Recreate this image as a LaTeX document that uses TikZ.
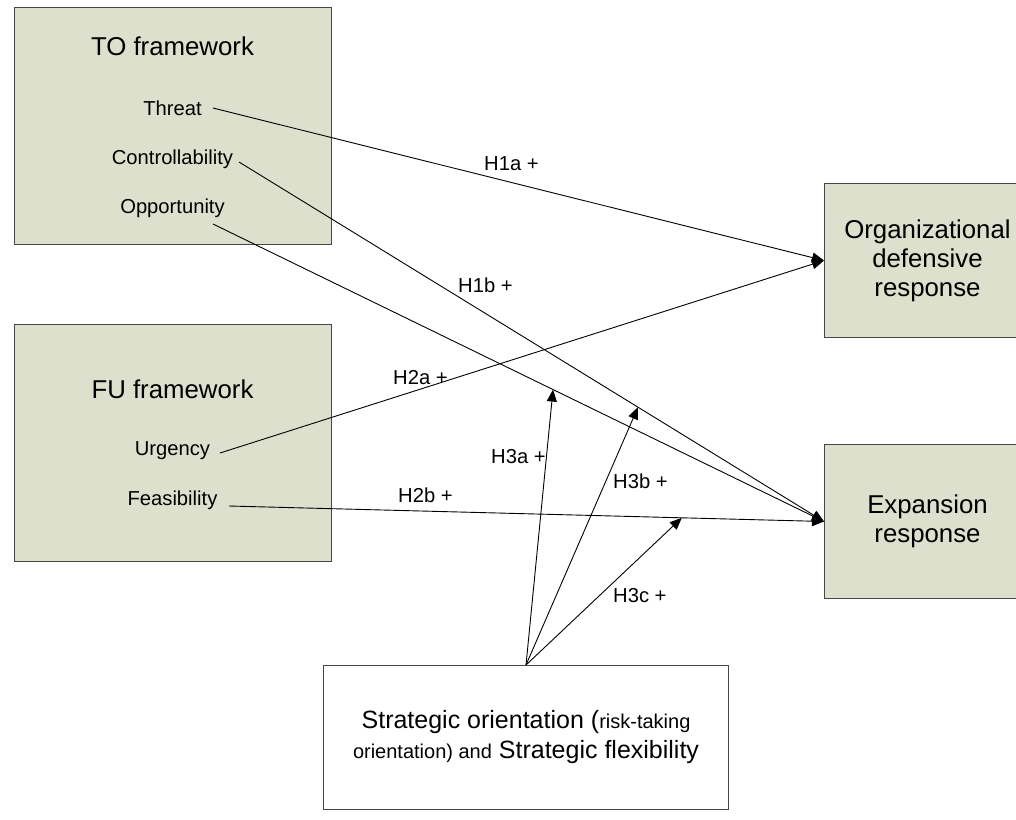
\documentclass[tikz,border=0pt]{standalone}
\usepackage{fontspec}
\setmainfont{Liberation Sans}
\usetikzlibrary{arrows.meta,calc}
\definecolor{boxfill}{RGB}{221,224,204}
\definecolor{boxline}{RGB}{70,70,70}
\tikzset{
  frame/.style={draw=boxline, fill=boxfill, line width=1pt, inner sep=0pt, anchor=north west},
  whiteframe/.style={draw=boxline, fill=white, line width=1pt, inner sep=0pt, anchor=north west},
  big/.style={font=\fontsize{25.8}{29}\selectfont},
  item/.style={font=\fontsize{20.2}{24}\selectfont, anchor=base, inner sep=0pt},
  title/.style={font=\fontsize{25.8}{29}\selectfont, anchor=base, inner sep=0pt},
  lbl/.style={font=\fontsize{20.2}{24}\selectfont, anchor=base west, inner sep=0pt},
  conn/.style={line width=0.9pt, -{Triangle[length=12pt,width=10pt]}},
}
\begin{document}
\begin{tikzpicture}[x=1pt,y=-1pt]
\useasboundingbox (0,0) rectangle (1016,819);
% frames
\node[frame, minimum width=317pt, minimum height=237pt] (to) at (14,7) {};
\node[frame, minimum width=317pt, minimum height=237pt] (fu) at (14,324) {};
\node[frame, big, align=center, minimum width=206pt, minimum height=154pt] (org) at (824,183) {Organizational\\defensive\\response};
\node[frame, big, align=center, minimum width=206pt, minimum height=154pt] (exp) at (824,444) {Expansion\\response};
\node[whiteframe, align=center, font=\fontsize{25}{30}\selectfont, minimum width=405pt, minimum height=144pt] (sb) at (323,665)
  {Strategic orientation ({\fontsize{20}{30}\selectfont risk-taking}\\{\fontsize{20}{30}\selectfont orientation) and} Strategic flexibility};
% texts in frames
\node[title] (tot) at (172.5,55) {TO framework};
\node[item] (threat) at (172.5,115) {Threat};
\node[item] (ctrl) at (172.5,164) {Controllability};
\node[item] (opp) at (172.5,213) {Opportunity};
\node[title] (fut) at (172.5,398) {FU framework};
\node[item] (urg) at (172.5,455) {Urgency};
\node[item] (feas) at (172.5,505) {Feasibility};
% connector starts
\coordinate (threatS) at (213,108);
\coordinate (ctrlS) at (239,162);
\coordinate (oppS) at (213,224);
\coordinate (urgS) at (220,453);
\coordinate (feasS) at (229,506);
% main connectors
\draw[conn] (threatS) -- (org.west);
\draw[conn] (urgS) -- (org.west);
\draw[conn] (ctrlS) -- (exp.west);
\draw[conn] (oppS) -- (exp.west);
\draw[conn] (feasS) -- (exp.west);
% moderating connectors
\coordinate (t3a) at ($(oppS)!0.5565!(exp.west)$);
\coordinate (t3b) at ($(ctrlS)!0.682!(exp.west)$);
\coordinate (t3c) at ($(feasS)!0.761!(exp.west)$);
\draw[conn] (sb.north) -- (t3a);
\draw[conn] (sb.north) -- (t3b);
\draw[conn] (sb.north) -- (t3c);
% labels
\node[lbl] (h1a) at (484,170) {H1a +};
\node[lbl] (h1b) at (458,292) {H1b +};
\node[lbl] (h2a) at (393,384) {H2a +};
\node[lbl] (h2b) at (398,502) {H2b +};
\node[lbl] (h3a) at (491,463) {H3a +};
\node[lbl] (h3b) at (613,488) {H3b +};
\node[lbl] (h3c) at (613,602) {H3c +};
\end{tikzpicture}
\end{document}
